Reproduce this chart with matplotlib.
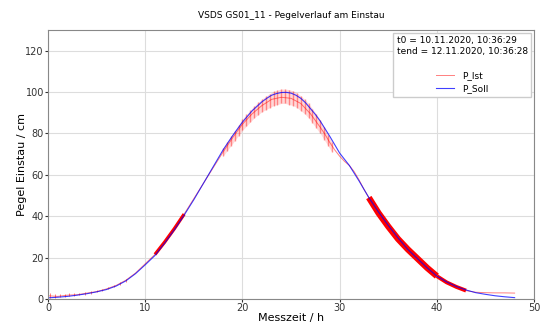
import matplotlib
matplotlib.use('Agg')
import matplotlib.pyplot as plt
import numpy as np

# Soll-Pegel (cm) ueber Messzeit (h)
soll_t = [0, 1, 2, 3, 4, 5, 6, 7, 8, 9, 10, 11, 12, 13, 14, 15, 16, 17, 18, 19, 20,
          21, 22, 22.5, 23, 23.5, 24, 24.5, 25, 25.5, 26, 26.5, 27, 27.5, 28, 29, 30,
          31, 32, 33, 34, 35, 36, 37, 38, 39, 40, 41, 42, 43, 44, 45, 46, 47, 48]
soll_h = [0.5, 0.8, 1.2, 1.8, 2.5, 3.4, 4.5, 6.2, 8.7, 12.2, 16.5, 21, 27, 33.5, 40.5,
          48, 56, 64, 72, 79, 85.5, 91, 95.3, 97, 98.5, 99.3, 99.8, 99.9, 99.5, 98.5,
          97, 94.8, 92, 89.2, 86, 78.5, 70.5, 64.5, 57, 49, 42, 35.5, 29.5, 24, 19.5,
          15, 11, 8.2, 6, 4.3, 3, 2.2, 1.5, 1, 0.6]

# Ist-Pegel (Haupttrace)
ist_t = [0, 1, 2, 3, 4, 5, 6, 7, 8, 9, 10, 11, 12, 13, 14, 15, 16, 17, 18, 19, 20,
         21, 22, 23, 24, 25, 26, 27, 28, 28.5, 29, 29.5, 30, 30.5, 31, 31.5, 32, 32.5,
         33, 34, 35, 36, 37, 38, 39, 40, 41, 42, 43, 44, 45, 46, 47, 48]
ist_h = [1.5, 1.2, 1.8, 2.0, 2.8, 3.5, 4.8, 6.5, 9, 12.5, 17, 21.5, 27.5, 34, 41,
         48.5, 56, 63.5, 71, 78, 84.5, 89.5, 93.5, 96.5, 97.5, 97, 94.5, 89.5, 83,
         79.5, 75.5, 72, 69, 66.5, 64.5, 61.5, 57.5, 53, 49, 41.5, 35, 29, 24, 19.5,
         15, 11, 8, 5.8, 4, 3.2, 3, 2.9, 2.9, 2.8]

# Schwingungen um den Scheitel (untere / obere Spitze)
band_t = [18.0, 18.4, 18.8, 19.2, 19.6, 20.0, 20.4, 20.8, 21.2, 21.6, 22.0, 22.4,
          22.8, 23.2, 23.6, 24.0, 24.4, 24.8, 25.2, 25.6, 26.0, 26.4, 26.8, 27.2,
          27.6, 28.0, 28.4, 28.8, 29.2]
band_lo = [69, 71.5, 74, 76.5, 79, 81.5, 83.5, 85.5, 87.5, 89, 90.5, 91.5, 92.5,
           93.5, 94, 94.5, 94.5, 94, 93.5, 92.5, 91, 89.5, 87.5, 85, 82.5, 80, 77,
           74, 71]
band_hi = [73, 76, 78.6, 81.4, 84.2, 87, 89.2, 91.2, 93.3, 95, 96.7, 98, 99.3, 100.3,
           101, 101.5, 101.5, 101.2, 100.6, 99.6, 98.2, 96.5, 94.5, 92, 89.3, 86.5,
           83, 79.5, 76]

# kleine Spitzen zu Beginn
tick_t = [0.2, 0.7, 1.2, 1.7, 2.2, 2.7, 3.2, 3.8, 4.4, 5.0, 5.6, 6.2, 6.8, 7.4, 8.0]
tick_lo = [0.5, 0.6, 0.8, 1.0, 1.2, 1.4, 1.7, 2.1, 2.5, 3.1, 3.8, 4.6, 5.6, 6.8, 8.4]
tick_hi = [2.8, 2.6, 2.5, 2.6, 2.7, 2.8, 3.0, 3.4, 3.8, 4.3, 5.0, 5.8, 6.8, 8.0, 9.6]

fig = plt.figure(figsize=(5.4, 3.27), dpi=100)
ax = fig.add_axes([0.089, 0.086, 0.9, 0.822])

ist_t_a = np.array(ist_t)
ist_h_a = np.array(ist_h)

ax.plot(ist_t, ist_h, color='red', lw=0.7, alpha=0.5, label='P_Ist')
ax.fill_between(band_t, band_lo, band_hi, color='red', alpha=0.15, lw=0)
ax.vlines(band_t, band_lo, band_hi, color='red', lw=1.0, alpha=0.4)
ax.vlines(tick_t, tick_lo, tick_hi, color='red', lw=0.7, alpha=0.5)
# dichte Bereiche
for t0, t1, lw in [(11, 14, 2.4), (33, 40, 4.5), (40, 43, 2.8)]:
    m = (ist_t_a >= t0) & (ist_t_a <= t1)
    ax.plot(ist_t_a[m], ist_h_a[m], color='red', lw=lw, solid_capstyle='butt')
ax.plot(soll_t, soll_h, color='blue', lw=0.8, alpha=0.75, label='P_Soll')

ax.set_xlim(0, 50)
ax.set_ylim(0, 130)
ax.set_xticks(range(0, 51, 10))
ax.set_yticks(range(0, 121, 20))
ax.tick_params(labelsize=7, colors='#333333', length=2, pad=1)
ax.grid(True, color='#dddddd', lw=0.8)
ax.set_axisbelow(True)
for s in ax.spines.values():
    s.set_color('#888888')

ax.set_xlabel('Messzeit / h', fontsize=8, labelpad=0)
ax.set_ylabel('Pegel Einstau / cm', fontsize=8, labelpad=-1.5)
ax.set_title('VSDS GS01_11 - Pegelverlauf am Einstau', fontsize=6.5, pad=9)

leg = ax.legend(title='t0 = 10.11.2020, 10:36:29\ntend = 12.11.2020, 10:36:28\n',
                loc='upper right', fontsize=6.5, title_fontsize=6.5, borderaxespad=0.3,
                fancybox=False, framealpha=1)
leg.get_title().set_multialignment('left')

fig.savefig('out.png', dpi=100)
